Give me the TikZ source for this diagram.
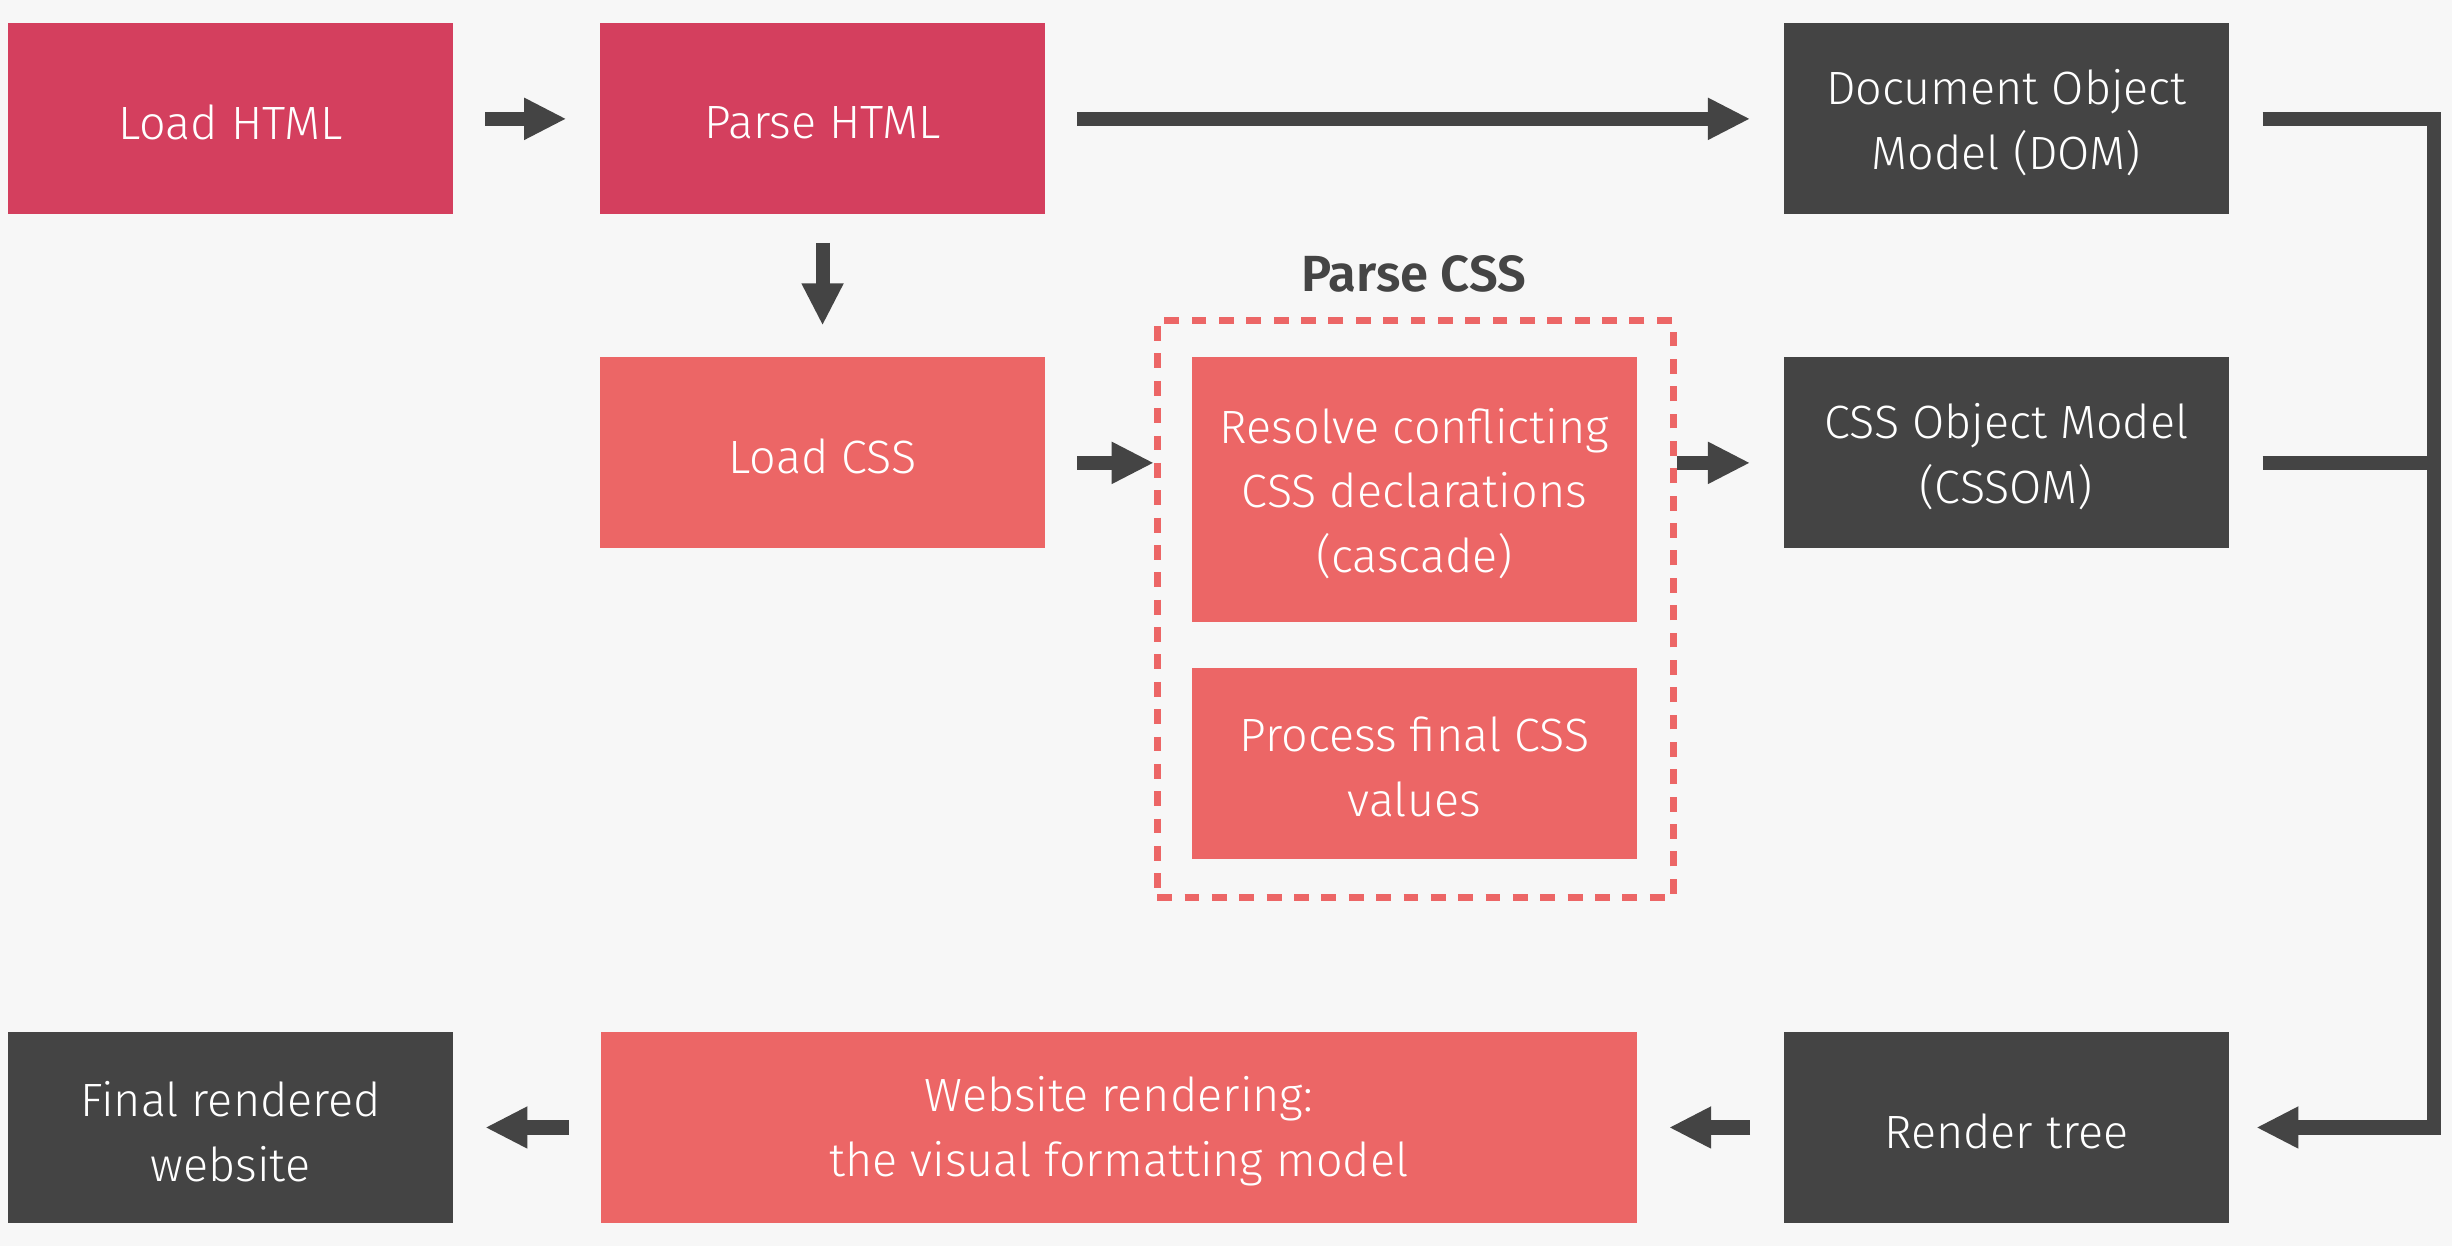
\documentclass[tikz,border=0pt]{standalone}
\usepackage{fontspec}
\setmainfont{Fira Sans Light}[BoldFont={Fira Sans SemiBold}]
\usetikzlibrary{arrows.meta}
\definecolor{bgc}{HTML}{F7F7F7}
\definecolor{crim}{HTML}{D43F5E}
\definecolor{salm}{HTML}{EC6666}
\definecolor{dark}{HTML}{444444}
\tikzset{
  box/.style={inner sep=0pt, minimum width=5.7cm, minimum height=2.44cm},
  txt/.style={text=white, align=center, inner sep=0pt, yshift=-0.05cm, font=\fontsize{17}{23.5}\selectfont},
  crimbox/.style={box, fill=crim},
  salmbox/.style={box, fill=salm},
  darkbox/.style={box, fill=dark},
  conn/.style={draw=dark, line width=0.18cm, line join=miter},
  arr/.style={conn, -{Triangle[length=0.54cm, width=0.5cm]}},
}
\begin{document}
\begin{tikzpicture}[x=0.02cm, y=-0.02cm]
\fill[bgc] (0,0) rectangle (1568,797);
\useasboundingbox (0,0) rectangle (1568,797);
% boxes
\node[crimbox, label={[txt]center:Load HTML}] (loadhtml) at (147.5,76) {};
\node[crimbox, label={[txt]center:Parse HTML}] (parsehtml) at (526,76) {};
\node[darkbox, label={[txt]center:{Document Object\\Model (DOM)}}] (dom) at (1283,76) {};
\node[salmbox, label={[txt]center:Load CSS}] (loadcss) at (526,289.5) {};
\node[salmbox, minimum height=3.4cm, label={[txt]center:{Resolve conflicting\\CSS declarations\\(cascade)}}] (resolve) at (904.5,313) {};
\node[salmbox, label={[txt]center:{Process final CSS\\values}}] (process) at (904.5,488) {};
\node[darkbox, label={[txt]center:{CSS Object Model\\(CSSOM)}}] (cssom) at (1283,289.5) {};
\node[darkbox, label={[txt]center:{Final rendered\\website}}] (final) at (147.5,721) {};
\node[salmbox, minimum width=13.26cm, label={[txt]center:{Website rendering:\\the visual formatting model}}] (website) at (715.5,721) {};
\node[darkbox, label={[txt]center:Render tree}] (render) at (1283,721) {};
% dashed group
\node[draw=salm, line width=0.085cm, dash pattern=on 0.19cm off 0.16cm, minimum width=6.6cm, minimum height=7.38cm, inner sep=0pt] (parsecss) at (905,389.5) {};
\node[text=dark, font=\fontsize{18.5}{20}\bfseries] (pcsslabel) at (904,175) {Parse CSS};
% arrows
\draw[arr, shorten <=0.4cm, shorten >=0.42cm] (loadhtml) -- (parsehtml);
\draw[arr, shorten <=0.4cm, shorten >=0.42cm] (parsehtml) -- (dom);
\draw[arr] ([yshift=-0.36cm]parsehtml.south) -- ([yshift=0.4cm]loadcss.north);
\coordinate (cssrow) at ([yshift=-0.13cm]loadcss.east);
\draw[arr] ([xshift=0.4cm]cssrow) -- (parsecss.west |- cssrow);
\draw[arr] (parsecss.east |- cssrow) -- ([xshift=-0.42cm]cssom.west |- cssrow);
\coordinate (brk) at (1556.5,400);
\coordinate (cssomrow) at ([yshift=-0.13cm]cssom.east);
\draw[arr] ([xshift=0.42cm]dom.east) -| (brk |- render.east) -- ([xshift=0.34cm]render.east);
\draw[conn] ([xshift=0.42cm]cssomrow) -- (brk |- cssomrow);
\draw[arr, shorten <=0.42cm, shorten >=0.4cm] (render) -- (website);
\draw[arr, shorten <=0.4cm, shorten >=0.4cm] (website) -- (final);
\end{tikzpicture}
\end{document}
